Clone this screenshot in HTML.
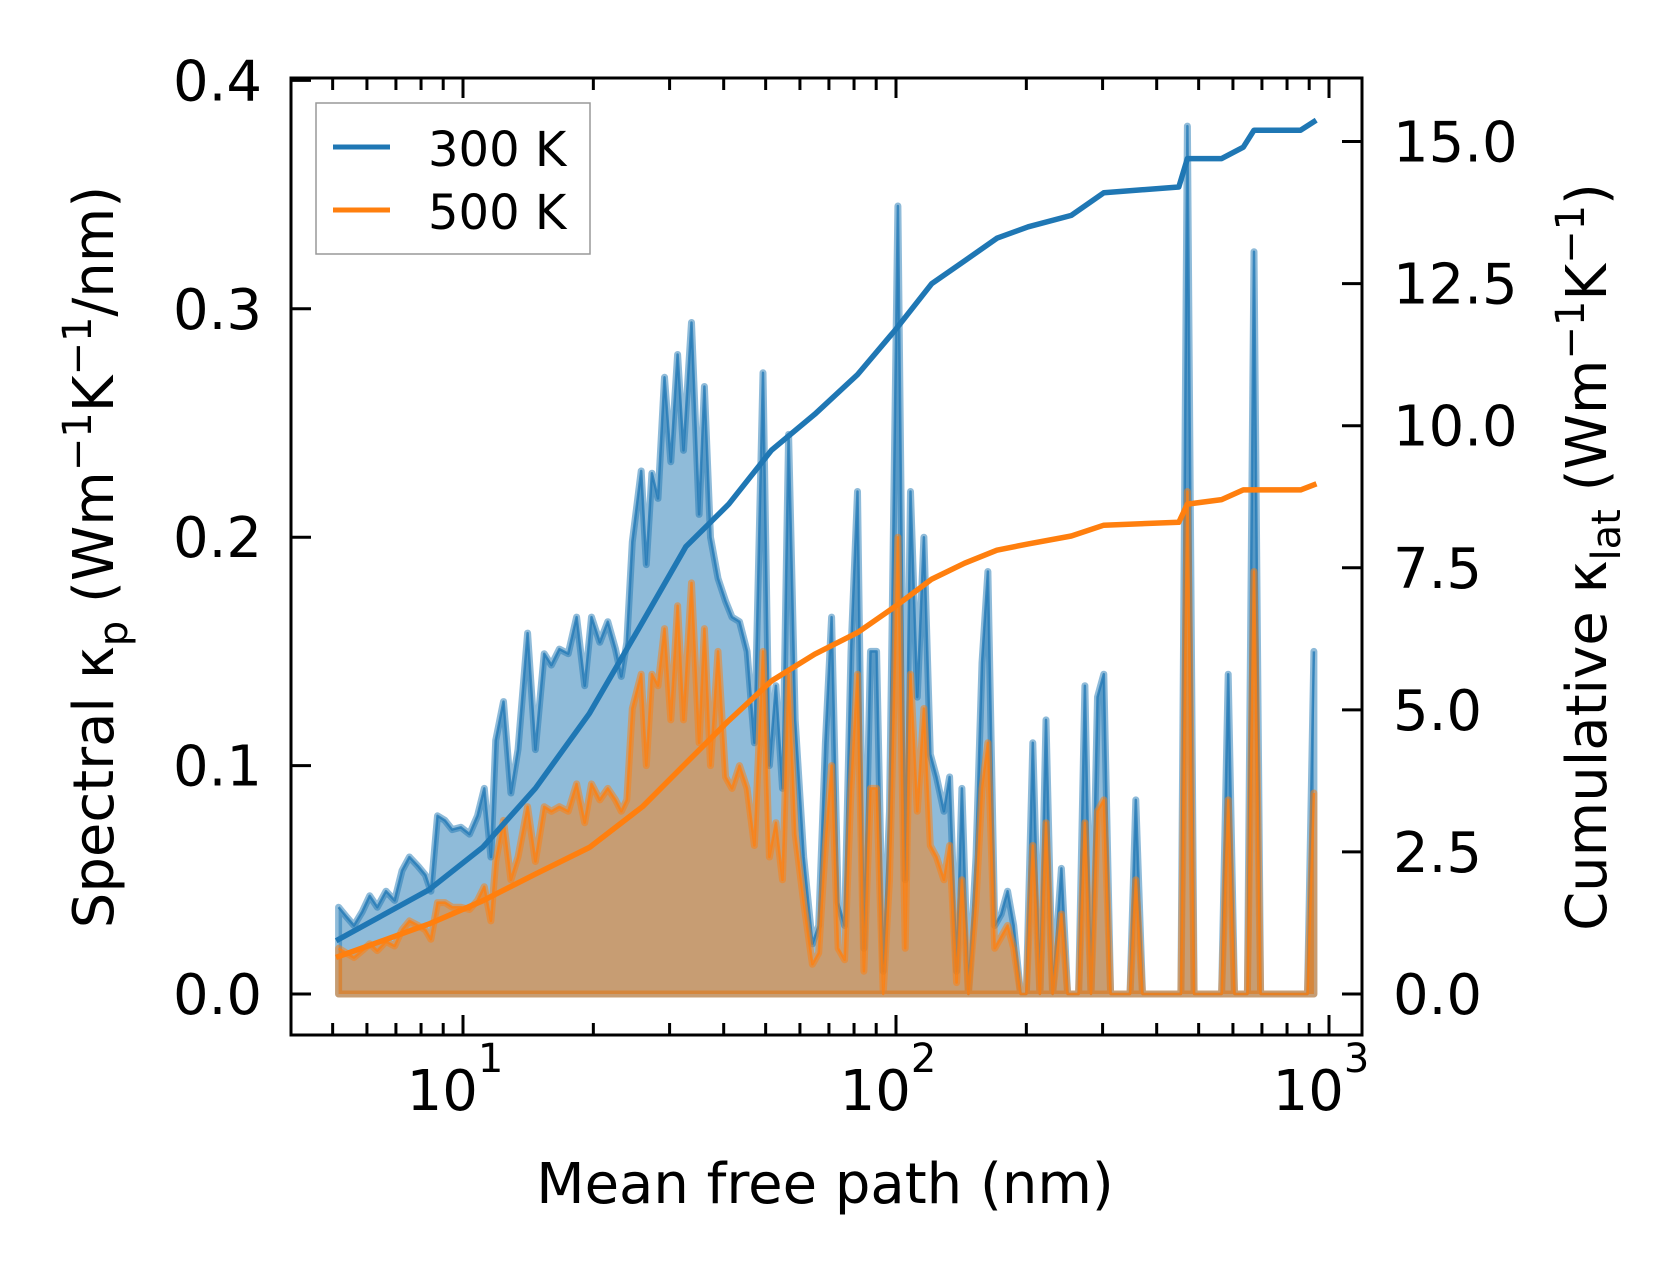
<!DOCTYPE html>
<html><head><meta charset="utf-8"><style>
html,body{margin:0;padding:0;background:#fff;}
svg{display:block;font-family:"DejaVu Sans","Liberation Sans",sans-serif;}
</style></head><body>
<svg id="chart" width="1679" height="1273" viewBox="0 0 1679 1273" xmlns="http://www.w3.org/2000/svg">
<g id="plot"></g>
<g id="axes"></g>
</svg>
<script>
const mfp = [5.16,5.37,5.60,5.85,6.09,6.34,6.64,6.95,7.23,7.52,7.87,8.19,8.43,8.73,9.08,9.44,9.89,10.35,10.8,11.2,11.6,11.9,12.4,12.9,13.4,14.1,14.7,15.4,16.0,16.7,17.5,18.3,19.1,19.8,20.7,21.6,22.5,23.2,23.9,24.6,25.8,26.5,27.3,28.2,29.2,30.2,31.3,32.3,33.7,35.1,36.1,37.3,38.8,40.4,41.8,43.5,45.3,47.1,49.3,51.0,52.8,54.7,56.5,58.5,61.2,64.1,66.3,68.7,71.0,73.5,76.1,78.7,81.5,84.3,87.3,90.2,93.4,96.6,101,105,108,112,116,120,124,129,133,138,142,147,153,158,163,169,175,181,187,194,200,207,215,222,230,241,249,264,273,282,292,302,313,347,358,371,455,471,488,565,585,605,648,671,695,892,923];
const k300 = [0.038,0.034,0.030,0.036,0.043,0.038,0.045,0.041,0.054,0.060,0.056,0.052,0.045,0.078,0.076,0.072,0.073,0.070,0.078,0.090,0.060,0.111,0.128,0.088,0.107,0.158,0.107,0.149,0.144,0.151,0.149,0.165,0.135,0.165,0.154,0.163,0.151,0.139,0.154,0.198,0.229,0.188,0.228,0.217,0.270,0.233,0.280,0.238,0.294,0.210,0.266,0.200,0.182,0.172,0.165,0.163,0.150,0.110,0.272,0.100,0.135,0.090,0.245,0.120,0.060,0.022,0.030,0.110,0.165,0.040,0.030,0.150,0.220,0.020,0.150,0.150,0.010,0.080,0.345,0.050,0.220,0.130,0.200,0.105,0.095,0.080,0.095,0.010,0.090,0.000,0.060,0.145,0.185,0.030,0.035,0.045,0.030,0.000,0.000,0.110,0.000,0.120,0.000,0.055,0.000,0.000,0.135,0.000,0.130,0.140,0.000,0.000,0.085,0.000,0.000,0.380,0.000,0.000,0.140,0.000,0.000,0.325,0.000,0.000,0.150];
const k500 = [0.020,0.018,0.016,0.019,0.022,0.019,0.023,0.021,0.028,0.032,0.030,0.028,0.024,0.040,0.040,0.038,0.038,0.037,0.041,0.047,0.032,0.058,0.076,0.050,0.060,0.082,0.058,0.082,0.080,0.082,0.080,0.092,0.075,0.092,0.085,0.090,0.085,0.080,0.085,0.125,0.140,0.100,0.140,0.135,0.160,0.120,0.170,0.120,0.180,0.110,0.160,0.100,0.150,0.095,0.090,0.100,0.090,0.065,0.150,0.060,0.075,0.050,0.140,0.070,0.040,0.013,0.018,0.065,0.100,0.020,0.015,0.090,0.140,0.010,0.090,0.090,0.000,0.050,0.200,0.020,0.140,0.080,0.125,0.065,0.060,0.050,0.065,0.005,0.050,0.000,0.040,0.090,0.110,0.020,0.025,0.030,0.020,0.000,0.000,0.065,0.000,0.075,0.000,0.035,0.000,0.000,0.075,0.000,0.080,0.085,0.000,0.000,0.050,0.000,0.000,0.220,0.000,0.000,0.085,0.000,0.000,0.185,0.000,0.000,0.088];
const cumMfp = [5.16,8.33,11.1,14.7,19.6,26.0,32.7,41.1,51.6,64.9,81.5,100,121,144,171,202,254,302,450,471,565,634,671,860,923];
const cum300 = [0.96,1.83,2.58,3.62,4.94,6.55,7.87,8.62,9.57,10.2,10.9,11.7,12.5,12.9,13.3,13.5,13.7,14.1,14.2,14.7,14.7,14.9,15.2,15.2,15.35];
const cum500 = [0.66,1.23,1.64,2.11,2.58,3.30,4.06,4.81,5.51,5.98,6.36,6.83,7.30,7.58,7.81,7.92,8.06,8.25,8.30,8.62,8.70,8.87,8.87,8.87,8.96];
const leftTicks = [0.0,0.1,0.2,0.3,0.4];
const rightTicks = [0.0,2.5,5.0,7.5,10.0,12.5,15.0];
const xMajor = [1,2,3];

const NS="http://www.w3.org/2000/svg";
const L=291,R=1362,T=78,B=1035;
const xs=v=>463+(Math.log10(v)-1)*433;
const yl=v=>994-v*2284;
const yr=v=>994-v*56.83;
function mk(tag,attrs,parent){const e=document.createElementNS(NS,tag);for(const k in attrs)e.setAttribute(k,attrs[k]);parent.appendChild(e);return e;}
const plot=document.getElementById('plot'), axes=document.getElementById('axes');

function area(k,color,name){
  let pts=mfp.map((m,i)=>xs(m).toFixed(1)+','+yl(k[i]).toFixed(1));
  const poly='M'+xs(mfp[0]).toFixed(1)+','+yl(0)+' L'+pts.join(' L')+' L'+xs(mfp[mfp.length-1]).toFixed(1)+','+yl(0)+' Z';
  const f=mk('path',{d:poly,fill:color,'fill-opacity':0.5,stroke:color,'stroke-opacity':0.5,'stroke-width':7,'stroke-linejoin':'round'},plot);
  
  
  const l=mk('polyline',{points:pts.join(' '),fill:'none',stroke:color,'stroke-opacity':0.75,'stroke-width':2.5,'stroke-linejoin':'round'},plot);
  
  
}
area(k300,'#1f77b4','spectral-300k');
area(k500,'#ff7f0e','spectral-500k');
function cum(c,color,name){
  const pts=cumMfp.map((m,i)=>xs(m).toFixed(1)+','+yr(c[i]).toFixed(1)).join(' ');
  const l=mk('polyline',{points:pts,fill:'none',stroke:color,'stroke-width':5.5,'stroke-linejoin':'round','stroke-linecap':'square'},plot);
  
  
}
cum(cum300,'#1f77b4','cumulative-300k');
cum(cum500,'#ff7f0e','cumulative-500k');

const fr=mk('rect',{x:L,y:T,width:R-L,height:B-T,fill:'none',stroke:'#000','stroke-width':3},axes);


function tick(x1,y1,x2,y2,name){const t=mk('line',{x1:x1,y1:y1,x2:x2,y2:y2,stroke:'#000','stroke-width':3},axes);}
function txt(x,y,s,anchor,name){const t=mk('text',{x:x,y:y,'font-size':56,'text-anchor':anchor,fill:'#000'},axes);t.textContent=s;return t;}
leftTicks.forEach(v=>{const y=yl(v);tick(L,y,L+20,y,'left-tick');txt(262,y+20,v.toFixed(1),'end','left-tick-label');});
rightTicks.forEach(v=>{const y=yr(v);tick(R,y,R-20,y,'right-tick');txt(1393,y+20,v.toFixed(1),'start','right-tick-label');});
for(let d=0;d<=3;d++){for(let m=1;m<=9;m++){const v=m*Math.pow(10,d);const x=xs(v);if(x<=L||x>=R)continue;const len=m===1?20:12;
  tick(x,B,x,B-len,m===1?'x-major-tick':'x-minor-tick');tick(x,T,x,T+len,m===1?'top-major-tick':'top-minor-tick');}}
xMajor.forEach(p=>{const x=xs(Math.pow(10,p));const t=txt(x-8,1110,'10','middle','x-tick-label');const s=mk('tspan',{dy:-38,'font-size':40},t);s.textContent=String(p);});
txt(825,1203,'Mean free path (nm)','middle','x-axis-title');
const yt=mk('text',{transform:'translate(113,557) rotate(-90)','font-size':56,'text-anchor':'middle'},axes);


yt.innerHTML='Spectral κ<tspan font-size="40" dy="14">p</tspan><tspan dy="-14"> (Wm</tspan><tspan font-size="40" dy="-22">−1</tspan><tspan dy="22">K</tspan><tspan font-size="40" dy="-22">−1</tspan><tspan dy="22">/nm)</tspan>';
const yt2=mk('text',{transform:'translate(1606,557) rotate(-90)','font-size':56,'text-anchor':'middle'},axes);


yt2.innerHTML='Cumulative κ<tspan font-size="40" dy="14">lat</tspan><tspan dy="-14"> (Wm</tspan><tspan font-size="40" dy="-22">−1</tspan><tspan dy="22">K</tspan><tspan font-size="40" dy="-22">−1</tspan><tspan dy="22">)</tspan>';
const lg=mk('g',{},axes);


mk('rect',{x:316,y:103,width:274,height:151,fill:'#fff','fill-opacity':0.8,stroke:'#999','stroke-width':1.5},lg);
[['300 K','#1f77b4',147],['500 K','#ff7f0e',210]].forEach(([s,c,y])=>{
  const ln=mk('line',{x1:333,y1:y,x2:390,y2:y,stroke:c,'stroke-width':5},lg);
  
  
  const t=mk('text',{x:428,y:y+19,'font-size':48},lg);t.textContent=s;
  
  
});
</script>
</body></html>
